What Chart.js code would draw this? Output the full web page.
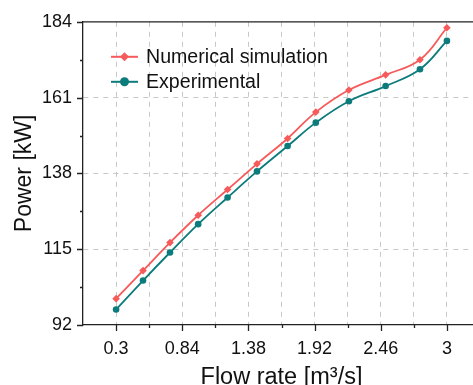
<!DOCTYPE html>
<html>
<head>
<meta charset="utf-8">
<script src="https://cdn.jsdelivr.net/npm/chart.js@4/dist/chart.umd.min.js"></script>
<style>
  html, body { margin: 0; padding: 0; overflow: hidden; background: #fff; }
  #wrap { width: 484px; height: 385px; }
</style>
</head>
<body>
<div id="wrap"><canvas id="chart"></canvas></div>
<script>
// flow rate [m3/s]
const flowRates = [0.3, 0.52, 0.74, 0.97, 1.21, 1.45, 1.7, 1.93, 2.2, 2.5, 2.78, 3.0];
// power [kW]
const numericalPower = [100.0, 108.5, 117.0, 125.3, 133.1, 140.9, 148.6, 156.6, 163.3, 167.9, 172.5, 182.2];
const experimentalPower = [96.7, 105.5, 114.0, 122.6, 130.7, 138.6, 146.3, 153.4, 159.9, 164.5, 169.6, 178.2];

const xMajorTicks = [0.3, 0.84, 1.38, 1.92, 2.46, 3];
const xMinorTicks = [0.57, 1.11, 1.65, 2.19, 2.73];
const yMajorTicks = [92, 115, 138, 161, 184];
const yMinorTicks = [103.5, 126.5, 149.5, 172.5];

const RED = '#f75a5a';
const TEAL = '#0c7b7b';
const FONT = '"Liberation Sans", Arial, sans-serif';

function toPoints(xs, ys) {
    return xs.map((x, i) => ({ x: x, y: ys[i] }));
}

// frame, minor/major tick marks and the legend inside the plot
const extras = {
    id: 'extras',
    afterDraw(chart) {
        const ctx = chart.ctx;
        const area = chart.chartArea;
        const xs = chart.scales.x;
        const ys = chart.scales.y;
        ctx.save();
        ctx.strokeStyle = '#222';
        ctx.lineWidth = 1.3;
        ctx.beginPath();
        ctx.moveTo(area.left, area.top);
        ctx.lineTo(area.right, area.top);
        xMajorTicks.forEach(v => {
            const px = Math.round(xs.getPixelForValue(v)) + 0.5;
            ctx.moveTo(px, area.bottom);
            ctx.lineTo(px, area.bottom + 6);
        });
        xMinorTicks.forEach(v => {
            const px = Math.round(xs.getPixelForValue(v)) + 0.5;
            ctx.moveTo(px, area.bottom);
            ctx.lineTo(px, area.bottom + 3);
        });
        yMajorTicks.forEach(v => {
            const py = Math.round(ys.getPixelForValue(v)) + 0.5;
            ctx.moveTo(area.left, py);
            ctx.lineTo(area.left - 6, py);
        });
        yMinorTicks.forEach(v => {
            const py = Math.round(ys.getPixelForValue(v)) + 0.5;
            ctx.moveTo(area.left, py);
            ctx.lineTo(area.left - 3, py);
        });
        ctx.stroke();

        // legend
        chart.data.datasets.forEach((ds, i) => {
            const y = area.top + 35 + i * 25;
            const x0 = area.left + 28;
            ctx.strokeStyle = ds.borderColor;
            ctx.lineWidth = 2;
            ctx.beginPath();
            ctx.moveTo(x0, y);
            ctx.lineTo(x0 + 27, y);
            ctx.stroke();
            ctx.fillStyle = ds.borderColor;
            ctx.beginPath();
            if (ds.pointStyle === 'rectRot') {
                ctx.moveTo(x0 + 13.5, y - 4.5);
                ctx.lineTo(x0 + 18, y);
                ctx.lineTo(x0 + 13.5, y + 4.5);
                ctx.lineTo(x0 + 9, y);
                ctx.closePath();
            } else {
                ctx.arc(x0 + 13.5, y, 4.5, 0, Math.PI * 2);
            }
            ctx.fill();
            ctx.fillStyle = '#111';
            ctx.font = '19.6px ' + FONT;
            ctx.textBaseline = 'middle';
            ctx.textAlign = 'left';
            ctx.fillText(ds.label, x0 + 35, y + 1);
        });
        ctx.restore();
    }
};

new Chart(document.getElementById('chart'), {
    type: 'line',
    data: {
        datasets: [{
            label: 'Numerical simulation',
            data: toPoints(flowRates, numericalPower),
            borderColor: RED,
            backgroundColor: RED,
            borderWidth: 1.8,
            pointStyle: 'rectRot',
            pointRadius: 3.8,
            pointBorderWidth: 0,
            tension: 0.4
        }, {
            label: 'Experimental',
            data: toPoints(flowRates, experimentalPower),
            borderColor: TEAL,
            backgroundColor: TEAL,
            borderWidth: 1.8,
            pointStyle: 'circle',
            pointRadius: 3.3,
            pointBorderWidth: 0,
            tension: 0.4
        }]
    },
    options: {
        responsive: true,
        maintainAspectRatio: false,
        animation: false,
        layout: { padding: { top: 19, right: 0, left: 0, bottom: 0 } },
        plugins: {
            legend: { display: false },
            tooltip: { enabled: false }
        },
        scales: {
            x: {
                type: 'linear',
                min: 0.03,
                max: 3.27,
                afterFit: s => { s.height = 60; },
                afterBuildTicks: s => {
                    s.ticks = xMajorTicks.concat(xMinorTicks).sort((a, b) => a - b).map(v => ({ value: v }));
                },
                ticks: {
                    autoSkip: false,
                    maxRotation: 0,
                    padding: 13,
                    color: '#111',
                    font: { family: FONT, size: 18 },
                    callback: v => xMajorTicks.includes(v) ? String(v) : ''
                },
                grid: {
                    drawTicks: false,
                    color: '#c8c8c8',
                    lineWidth: 1
                },
                border: { display: true, color: '#222', width: 1.3, dash: [5, 5] },
                title: {
                    display: true,
                    text: 'Flow rate [m\u00b3/s]',
                    color: '#111',
                    font: { family: FONT, size: 23.5, lineHeight: 0.6 },
                    padding: 0
                }
            },
            y: {
                min: 92,
                max: 184,
                afterFit: s => { s.width = 83; },
                afterBuildTicks: s => {
                    s.ticks = yMajorTicks.map(v => ({ value: v }));
                },
                ticks: {
                    padding: 11,
                    color: '#111',
                    font: { family: FONT, size: 18 }
                },
                grid: {
                    drawTicks: false,
                    color: ctx => (ctx.tick && (ctx.tick.value === 92 || ctx.tick.value === 184)) ? 'rgba(0,0,0,0)' : '#c8c8c8',
                    lineWidth: 1
                },
                border: { display: true, color: '#222', width: 1.3, dash: [5, 5] },
                title: {
                    display: true,
                    text: 'Power [kW]',
                    color: '#111',
                    font: { family: FONT, size: 23 },
                    padding: { top: 11, bottom: 0 }
                }
            }
        }
    },
    plugins: [extras]
});
</script>
</body>
</html>
